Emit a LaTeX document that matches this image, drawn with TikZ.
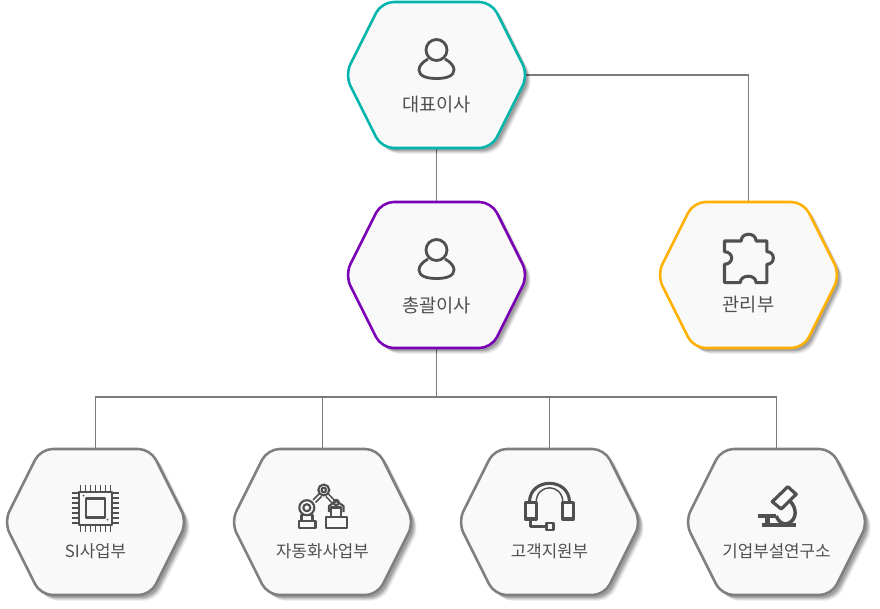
\documentclass[tikz,border=0pt]{standalone}
\usepackage{fontspec}
\setmainfont{Noto Sans CJK KR}
\usetikzlibrary{shadows,backgrounds}
\definecolor{hexfill}{HTML}{F9F9F9}
\definecolor{icongray}{HTML}{505050}
\definecolor{linkgray}{HTML}{7B7B7B}
\definecolor{ceoteal}{HTML}{00B5AB}
\definecolor{dirpurple}{HTML}{7A00B5}
\definecolor{mgmtamber}{HTML}{FFB000}
\definecolor{deptgray}{HTML}{7F7F7F}
\def\hexcell[#1](#2)(#3,#4){
	\path[hexbox=#1, shift={(#3,#4)}] (-91.5,0) -- (-55,-73) -- (55,-73) -- (91.5,0) -- (55,73) -- (-55,73) -- cycle;
	\node[hexspot] (#2) at (#3,#4) {};
}
\tikzset{
	hexbox/.style={draw=#1, line width=1.9pt, fill=hexfill, rounded corners=9pt,
		drop shadow={shadow xshift=4.4pt, shadow yshift=-4.4pt, opacity=.05, fill=black},
		drop shadow={shadow xshift=3.8pt, shadow yshift=-3.8pt, opacity=.07, fill=black},
		drop shadow={shadow xshift=3.2pt, shadow yshift=-3.2pt, opacity=.09, fill=black},
		drop shadow={shadow xshift=2.6pt, shadow yshift=-2.6pt, opacity=.11, fill=black},
		drop shadow={shadow xshift=2pt, shadow yshift=-2pt, opacity=.12, fill=black}},
	hexspot/.style={inner sep=0pt, outer sep=0pt, minimum width=132pt, minimum height=109.5pt},
	linkline/.style={draw=linkgray, line width=1.35pt},
	toplabel/.style={text=icongray, font=\fontsize{14pt}{15pt}\selectfont, inner sep=0pt},
	deptlabel/.style={text=icongray, font=\fontsize{12.6pt}{14pt}\selectfont, inner sep=0pt},
	iconline/.style={draw=icongray, line width=2.1pt, line join=round},
	thinicon/.style={draw=icongray, line width=1.1pt, line join=round},
	personicon/.pic={
		\draw[iconline] (0,-25) circle (10.5);
		\draw[iconline] (-8.5,-16) .. controls (-14,-13) and (-17.5,-9) .. (-17.5,-5)
			.. controls (-17.5,1) and (-10,3.5) .. (0,3.5)
			.. controls (10,3.5) and (17.5,1) .. (17.5,-5)
			.. controls (17.5,-9) and (14,-13) .. (8.5,-16);
	},
	puzzleicon/.pic={
		\draw[iconline, line width=2.3pt] (-24,-34) -- (-7.3,-34)
			.. controls (-7.5,-43) and (7.5,-43) .. (7.6,-34)
			-- (18.3,-34) -- (18.3,-23.3)
			.. controls (27,-23.5) and (27,-10.5) .. (18.3,-10.7)
			-- (18.3,7.7) -- (7.6,7.7)
			.. controls (7.5,-1) and (-8,-1) .. (-8.3,7.7)
			-- (-24,7.7) -- (-24,-10.7)
			.. controls (-14.5,-11) and (-14.5,-23) .. (-24,-23.3)
			-- cycle;
	},
	chipicon/.pic={
		\draw[thinicon, line width=1.5pt] (-16.5,-30.5) rectangle (16.5,2.5);
		\draw[thinicon, line width=1.7pt] (-9.5,-23.5) rectangle (9.5,-4.5);
		\foreach \p in {-15,-10,-5,0,5,10,15}{
			\draw[thinicon] (\p,-37.5) -- (\p,-30.5);
			\draw[thinicon] (\p,2.5) -- (\p,9.5);
			\draw[thinicon] (-23.5,\p-14) -- (-16.5,\p-14);
			\draw[thinicon] (16.5,\p-14) -- (23.5,\p-14);
		}
		\fill[icongray] (-12,-26.5) circle (1);
		\fill[icongray] (12,-2.5) circle (1);
	},
	roboticon/.pic={
		\draw[thinicon, line width=1.6pt] (-23.7,-1) rectangle (-7,6.3);
		\draw[thinicon, line width=1.6pt] (-21,-7) rectangle (-10,-1);
		\draw[thinicon, line width=1.6pt] (-15.7,-14.3) circle (7.5);
		\draw[thinicon, line width=1.6pt] (-15.7,-14.3) circle (3.5);
		\draw[thinicon] (-9.5,-22) -- (-3,-28.5);
		\draw[thinicon] (-7,-19.5) -- (-1,-25.5);
		\draw[thinicon, line width=1.6pt] (1.3,-32) circle (5.5);
		\draw[thinicon, line width=1.6pt] (1.3,-32) circle (2.3);
		\draw[thinicon] (6,-28) -- (13,-20.5);
		\draw[thinicon] (3.5,-25.5) -- (10,-18.5);
		\draw[thinicon, line width=1.6pt] (13.7,-19.5) circle (2.6);
		\draw[thinicon, line width=1.6pt] (6.5,-10) -- (6.5,-16) -- (13.7,-21) -- (21,-16) -- (21,-10);
		\draw[thinicon, line width=1.6pt] (8.7,-5.3) -- (8.7,-14.5) -- (18.7,-14.5) -- (18.7,-5.3);
		\draw[thinicon, line width=1.6pt] (3.7,-5.3) rectangle (24.3,6.3);
	},
	headseticon/.pic={
		\draw[iconline, line width=2.3pt] (-24.3,-19.7) rectangle (-13.3,-3);
		\draw[iconline, line width=2.3pt] (13.3,-19.7) rectangle (24,-3);
		\draw[iconline, line width=2.3pt] (-20,-19.7) .. controls (-20,-45) and (20,-45) .. (20,-19.7);
		\draw[thinicon] (-13.3,-19.7) .. controls (-13.3,-39) and (13.3,-39) .. (13.3,-19.7);
		\draw[iconline] (-19,-3) -- (-19,4.7) -- (-3.3,4.7);
		\draw[iconline] (-3.3,1) rectangle (4,8);
	},
	scopeicon/.pic={
		\draw[iconline, line width=2.4pt] (-4.3,-20.3) -- (11.3,-35.3) -- (19.7,-27.7) -- (4.7,-13) -- cycle;
		\draw[iconline, line width=2.6pt] (13,-21.5) .. controls (21,-14) and (21,-1) .. (9.7,2);
		\draw[iconline, line width=2.6pt] (9.7,2) .. controls (6,2) and (2,0) .. (-0.3,-6);
		\draw[icongray, line width=3.2pt] (-18.7,-6) -- (-0.3,-6);
		\draw[icongray, line width=3.2pt] (-14.3,3) -- (19.7,3);
		\draw[icongray, line width=3.4pt] (-9,-6) -- (-9,3);
	},
}
\begin{document}
\begin{tikzpicture}[x=0.75pt, y=-0.75pt]
	\useasboundingbox (0,0) rectangle (880,609);

	%%%%% links %%%%%
	\coordinate (bus) at (436.5,397);

	%%%%% hexagons %%%%%
	\hexcell[ceoteal](ceo)(436.5,75)
	\hexcell[dirpurple](dir)(436.5,275)
	\hexcell[mgmtamber](mgmt)(748.5,275)
	\hexcell[deptgray](si)(95.5,522)
	\hexcell[deptgray](auto)(322.5,522)
	\hexcell[deptgray](cs)(549.5,522)
	\hexcell[deptgray](lab)(776.5,522)

	%%%%% labels %%%%%
	\node[toplabel] (ceotxt) at (436.5,105) {대표이사};
	\node[toplabel] (dirtxt) at (436.5,305) {총괄이사};
	\node[toplabel] (mgmttxt) at (748.5,305) {관리부};
	\node[deptlabel] (sitxt) at (95.5,551) {SI사업부};
	\node[deptlabel] (autotxt) at (322.5,551) {자동화사업부};
	\node[deptlabel] (cstxt) at (549.5,551) {고객지원부};
	\node[deptlabel] (labtxt) at (776.5,551) {기업부설연구소};

	%%%%% icons %%%%%
	\pic at (ceo.center) {personicon};
	\pic at (dir.center) {personicon};
	\pic at (mgmt.center) {puzzleicon};
	\pic at (si.center) {chipicon};
	\pic at (auto.center) {roboticon};
	\pic at (cs.center) {headseticon};
	\pic at (lab.center) {scopeicon};

	\begin{scope}[on background layer]
		\draw[linkline] (ceo) -- (dir);
		\draw[linkline] (ceo.east) -| (mgmt.north);
		\draw[linkline] (dir) -- (bus);
		\draw[linkline] (bus) -| (si.north);
		\draw[linkline] (bus) -| (auto.north);
		\draw[linkline] (bus) -| (cs.north);
		\draw[linkline] (bus) -| (lab.north);
	\end{scope}
\end{tikzpicture}
\end{document}
